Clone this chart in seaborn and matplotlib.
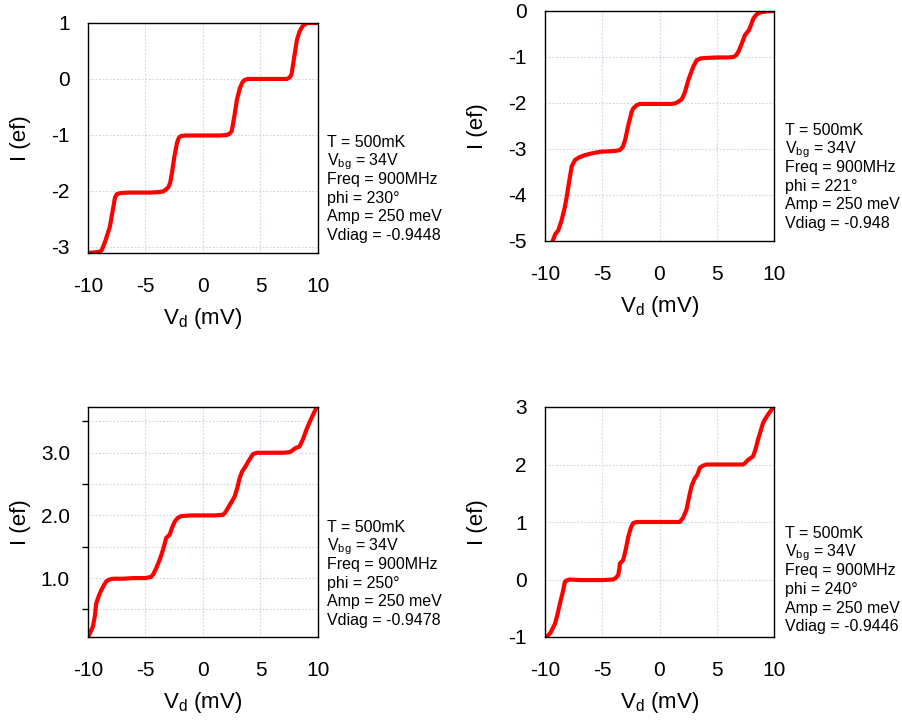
import numpy as np
import pandas as pd
import seaborn as sns
import matplotlib
matplotlib.use("Agg")
import matplotlib.pyplot as plt
from matplotlib.ticker import MultipleLocator, FixedLocator

# ---------------- data ----------------
x_230 = [-10.0, -9.5, -9.0, -8.8, -8.5, -8.1, -7.85, -7.65, -7.5, -7.2, -6.5, -5.5, -4.5, -3.8, -3.45,
         -3.2, -3.0, -2.85, -2.7, -2.5, -2.26, -2.1, -1.9, -1.5, -0.5, 0.5, 1.5, 2.08, 2.3, 2.5,
         2.7, 2.95, 3.2, 3.4, 3.6, 3.9, 4.5, 5.5, 6.5, 7.3, 7.55, 7.7, 7.9, 8.17, 8.4, 8.65, 8.87,
         9.1, 9.5, 10.0]
y_230 = [-3.11, -3.10, -3.09, -3.06, -2.90, -2.64, -2.35, -2.12, -2.06, -2.04, -2.03, -2.03, -2.03,
         -2.02, -2.01, -1.97, -1.93, -1.85, -1.68, -1.40, -1.14, -1.05, -1.02, -1.01, -1.01, -1.01,
         -1.01, -1.00, -0.98, -0.93, -0.70, -0.37, -0.17, -0.07, -0.02, 0.0, 0.0, 0.0, 0.0, 0.0,
         0.03, 0.08, 0.35, 0.70, 0.85, 0.94, 0.98, 1.0, 1.0, 1.0]

x_221 = [-9.33, -9.1, -8.84, -8.55, -8.3, -8.1, -7.9, -7.67, -7.38, -7.0, -6.6, -6.0, -5.2, -4.4,
         -3.8, -3.45, -3.2, -3.0, -2.72, -2.43, -2.3, -2.0, -1.7, -1.0, 0.0, 1.0, 1.35, 1.65, 1.94,
         2.2, 2.52, 2.95, 3.25, 3.6, 4.1, 5.0, 6.0, 6.45, 6.7, 6.9, 7.2, 7.47, 7.8, 8.0, 8.2, 8.5,
         8.8, 9.3, 10.0]
y_221 = [-5.0, -4.85, -4.77, -4.55, -4.3, -4.04, -3.72, -3.38, -3.24, -3.18, -3.14, -3.10, -3.06,
         -3.05, -3.04, -3.02, -2.95, -2.80, -2.48, -2.19, -2.12, -2.05, -2.02, -2.02, -2.02, -2.02,
         -2.01, -1.97, -1.92, -1.78, -1.50, -1.21, -1.07, -1.03, -1.02, -1.01, -1.01, -1.00, -0.96,
         -0.88, -0.70, -0.52, -0.42, -0.30, -0.16, -0.07, -0.03, -0.01, 0.0]

x_250 = [-9.97, -9.8, -9.57, -9.4, -9.28, -9.05, -8.84, -8.6, -8.4, -8.1, -7.8, -7.0, -6.0, -5.0,
         -4.5, -4.3, -4.06, -3.75, -3.48, -3.3, -3.2, -3.05, -2.9, -2.7, -2.46, -2.2, -1.88, -1.0,
         0.0, 1.0, 1.74, 1.95, 2.17, 2.5, 2.75, 3.0, 3.19, 3.4, 3.62, 4.0, 4.35, 4.7, 5.2, 6.0,
         7.0, 7.55, 7.8, 8.0, 8.4, 8.7, 9.0, 9.3, 9.6, 9.9]
y_250 = [0.07, 0.13, 0.23, 0.40, 0.60, 0.72, 0.81, 0.89, 0.95, 0.98, 0.99, 0.99, 1.0, 1.0,
         1.02, 1.07, 1.16, 1.30, 1.45, 1.57, 1.64, 1.67, 1.69, 1.80, 1.90, 1.96, 1.99, 2.0,
         2.0, 2.0, 2.01, 2.05, 2.12, 2.22, 2.30, 2.45, 2.60, 2.70, 2.76, 2.88, 2.98, 3.0, 3.0, 3.0,
         3.0, 3.01, 3.04, 3.07, 3.10, 3.22, 3.37, 3.50, 3.62, 3.73]

x_240 = [-9.9, -9.5, -9.13, -8.9, -8.7, -8.45, -8.26, -8.05, -7.82, -7.0, -6.0, -5.0, -4.04, -3.8,
         -3.6, -3.5, -3.46, -3.3, -3.17, -2.95, -2.73, -2.5, -2.3, -2.0, -1.0, 0.0, 1.0, 1.77,
         2.05, 2.35, 2.6, 2.79, 3.08, 3.3, 3.52, 3.8, 4.1, 5.0, 6.0, 7.3, 7.5, 7.73, 8.17, 8.4, 8.6,
         9.04, 9.2, 9.48, 9.7, 9.9]
y_240 = [-1.01, -0.92, -0.77, -0.60, -0.42, -0.22, -0.04, -0.01, 0.0, -0.01, -0.01, -0.01, 0.0,
         0.03, 0.08, 0.20, 0.28, 0.31, 0.34, 0.52, 0.74, 0.90, 0.98, 1.0, 1.0, 1.0, 1.0, 1.0,
         1.07, 1.21, 1.45, 1.62, 1.76, 1.82, 1.94, 1.98, 2.0, 2.0, 2.0, 2.0, 2.03, 2.08, 2.14,
         2.27, 2.43, 2.72, 2.78, 2.87, 2.93, 2.98]

labels_230 = ["T = 500mK", r"$\mathregular{V_{bg}}$ = 34V", "Freq = 900MHz", "phi = 230°",
              "Amp = 250 meV", "Vdiag = -0.9448"]
labels_221 = ["T = 500mK", r"$\mathregular{V_{bg}}$ = 34V", "Freq = 900MHz", "phi = 221°",
              "Amp = 250 meV", "Vdiag = -0.948"]
labels_250 = ["T = 500mK", r"$\mathregular{V_{bg}}$ = 34V", "Freq = 900MHz", "phi = 250°",
              "Amp = 250 meV", "Vdiag = -0.9478"]
labels_240 = ["T = 500mK", r"$\mathregular{V_{bg}}$ = 34V", "Freq = 900MHz", "phi = 240°",
              "Amp = 250 meV", "Vdiag = -0.9446"]

x_ticks = [-10, -5, 0, 5, 10]

# ---------------- style ----------------
sns.set_theme(style="white")
plt.rcParams['font.family'] = ['Liberation Sans', 'DejaVu Sans']
plt.rcParams['mathtext.fontset'] = 'custom'
plt.rcParams['mathtext.rm'] = 'Liberation Sans'
plt.rcParams['mathtext.default'] = 'regular'
plt.rcParams['text.color'] = 'black'
plt.rcParams['axes.labelcolor'] = 'black'
plt.rcParams['xtick.color'] = 'black'
plt.rcParams['ytick.color'] = 'black'

fig = plt.figure(figsize=(9.03, 7.22), dpi=100)

W, H = 903.0, 722.0
panels = [
    dict(l=88, t=23, w=230, h=230, x=x_230, y=y_230, ylim=(-3.11, 1.0),
         major=[-3, -2, -1, 0, 1], fmt="{:.0f}", minor=None, text=labels_230, ty=0.461),
    dict(l=545, t=11, w=229, h=230, x=x_221, y=y_221, ylim=(-5.0, 0.0),
         major=[-5, -4, -3, -2, -1, 0], fmt="{:.0f}", minor=None, text=labels_221, ty=0.461),
    dict(l=88, t=407, w=230, h=230, x=x_250, y=y_250, ylim=(0.06, 3.73),
         major=[1.0, 2.0, 3.0], fmt="{:.1f}", minor=[0.5, 1.5, 2.5, 3.5], text=labels_250, ty=0.457),
    dict(l=545, t=407, w=229, h=230, x=x_240, y=y_240, ylim=(-1.0, 3.0),
         major=[-1, 0, 1, 2, 3], fmt="{:.0f}", minor=None, text=labels_240, ty=0.43),
]

for p in panels:
    ax = fig.add_axes([p['l'] / W, 1 - (p['t'] + p['h']) / H, p['w'] / W, p['h'] / H])
    df = pd.DataFrame({"Vd": p['x'], "I": p['y']})
    sns.lineplot(data=df, x="Vd", y="I", ax=ax, color="#ff0000", linewidth=3.0,
                 sort=False, estimator=None)
    ax.set_xlim(-10, 10)
    ax.set_ylim(*p['ylim'])
    ax.xaxis.set_major_locator(FixedLocator(x_ticks))
    ax.set_xticklabels([str(v) for v in x_ticks])
    ax.yaxis.set_major_locator(FixedLocator(p['major']))
    ax.set_yticklabels([p['fmt'].format(v) for v in p['major']])
    if p['minor'] is not None:
        ax.yaxis.set_minor_locator(FixedLocator(p['minor']))
    # grid
    ax.grid(False)
    for xv in [-5, 0, 5]:
        ax.axvline(xv, color="#d2d2f5", lw=0.8, ls=(0, (1.6, 1.6)), zorder=0)
    gy = list(p['major']) + (list(p['minor']) if p['minor'] else [])
    for yv in gy:
        if p['ylim'][0] < yv < p['ylim'][1]:
            ax.axhline(yv, color="#d4d4d4", lw=0.8, ls=(0, (1.6, 1.6)), zorder=0)
    for s in ax.spines.values():
        s.set_visible(True)
        s.set_color("black")
        s.set_linewidth(1.0)
    ax.tick_params(axis='both', which='major', direction='out', length=8, width=1.0,
                   colors='black', labelsize=15)
    ax.tick_params(axis='x', which='major', pad=9)
    ax.tick_params(axis='y', which='major', pad=5)
    ax.tick_params(axis='y', which='minor', direction='out', length=4.5, width=1.0,
                   colors='black', left=True)
    ax.set_xlabel(r"$\mathregular{V_d}$ (mV)", fontsize=16, color='black')
    ax.set_ylabel("I (ef)", fontsize=16, color='black')
    ax.xaxis.set_label_coords(0.5, -0.232)
    ax.yaxis.set_label_coords(-0.25, 0.5)
    xt = (327 - 88) / 230 if p['l'] < 300 else (785 - 545) / 229
    for i, line in enumerate(p['text']):
        ax.text(xt, p['ty'] - i * 0.0809, line, transform=ax.transAxes, fontsize=11.5,
                ha='left', va='baseline', color='black')

fig.savefig("out.png", dpi=100)
